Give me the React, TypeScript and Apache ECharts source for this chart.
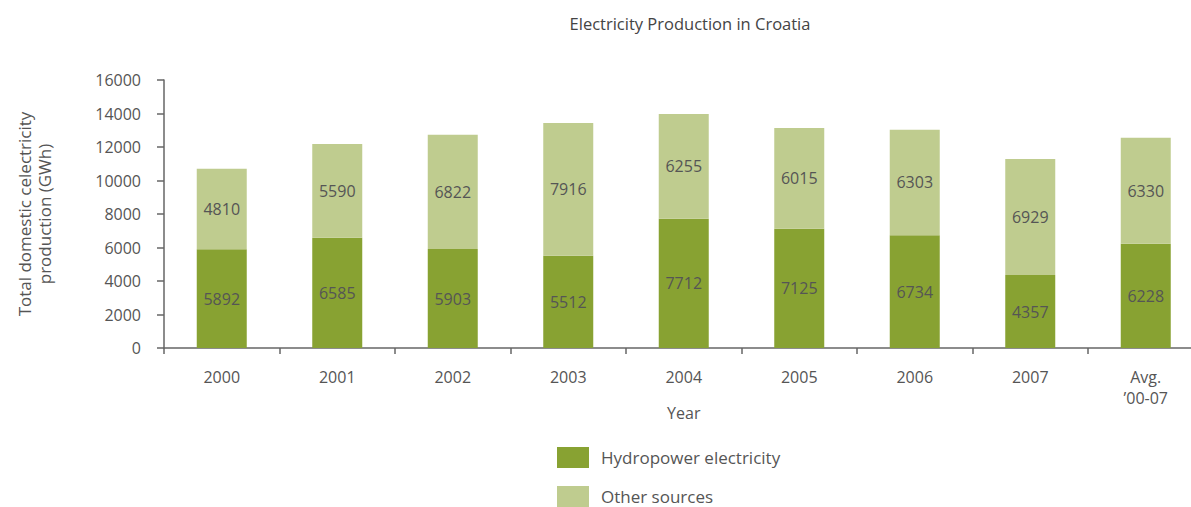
import React, { useEffect, useRef } from "react";
import * as echarts from "echarts";

const categories = ["2000", "2001", "2002", "2003", "2004", "2005", "2006", "2007", "Avg.\n\u201900-07"];
const hydroValues = [5892, 6585, 5903, 5512, 7712, 7125, 6734, 4357, 6228];
const otherValues = [4810, 5590, 6822, 7916, 6255, 6015, 6303, 6929, 6330];
const yTicks = { min: 0, max: 16000, interval: 2000 };

const FONT = "Open Sans";
const TEXT = "#555";
const HYDRO = "#88a232";
const OTHER = "#bfcc8f";

export default function App() {
  const ref = useRef<HTMLDivElement>(null);
  useEffect(() => {
    const chart = echarts.init(ref.current!, null, { renderer: "svg" });
    const labelStyle = {
      show: true,
      position: "inside",
      color: TEXT,
      fontSize: 16,
      fontFamily: FONT,
    };
    const legendBase = {
      orient: "vertical",
      left: 557,
      padding: 0,
      itemWidth: 32,
      itemHeight: 21,
      icon: "rect",
      textStyle: { fontSize: 17, color: TEXT, fontFamily: FONT, padding: [0, 0, 0, 7] },
    };
    chart.setOption({
      animation: false,
      textStyle: { fontFamily: FONT },
      title: {
        text: "Electricity Production in Croatia",
        left: 685,
        textAlign: "center",
        top: 10,
        textStyle: { fontSize: 16.5, fontWeight: "normal", color: "#444", fontFamily: FONT },
      },
      legend: [
        { ...legendBase, top: 447, data: ["Hydropower electricity"] },
        { ...legendBase, top: 486, data: ["Other sources"] },
      ],
      grid: { left: 164, top: 80, width: 1039.5, height: 268, containLabel: false },
      xAxis: {
        type: "category",
        data: categories,
        name: "Year",
        nameLocation: "middle",
        nameGap: 57,
        nameMoveOverlap: false,
        nameTextStyle: { fontSize: 16, color: TEXT, fontFamily: FONT },
        axisLine: { lineStyle: { color: "#666", width: 1.5 } },
        axisTick: { show: true, length: 6, lineStyle: { color: "#666", width: 1.5 } },
        axisLabel: { color: TEXT, fontSize: 16, fontFamily: FONT, margin: 18, lineHeight: 21 },
      },
      yAxis: {
        type: "value",
        min: yTicks.min,
        max: yTicks.max,
        interval: yTicks.interval,
        name: "Total domestic celectricity\nproduction (GWh)",
        nameLocation: "middle",
        nameRotate: 90,
        nameGap: 110,
        nameMoveOverlap: false,
        nameTextStyle: { fontSize: 17, color: TEXT, fontFamily: FONT, lineHeight: 20 },
        splitLine: { show: false },
        axisLine: { show: true, lineStyle: { color: "#666", width: 1.5 } },
        axisTick: { show: true, length: 7, lineStyle: { color: "#666", width: 1.5 } },
        axisLabel: {
          color: TEXT,
          fontSize: 16,
          fontFamily: FONT,
          margin: 23,
          formatter: (v: number) => String(v),
        },
      },
      series: [
        {
          name: "Hydropower electricity",
          type: "bar",
          stack: "total",
          data: hydroValues,
          barWidth: 50,
          itemStyle: { color: HYDRO },
          label: labelStyle,
        },
        {
          name: "Other sources",
          type: "bar",
          stack: "total",
          data: otherValues,
          barWidth: 50,
          itemStyle: { color: OTHER },
          label: labelStyle,
        },
      ],
    });
    return () => chart.dispose();
  }, []);
  return (
    <div style={{ width: 1191, height: 507, position: "absolute", left: 0, top: 0, overflow: "hidden" }}>
      <div ref={ref} style={{ width: 1230, height: 507 }} />
    </div>
  );
}
